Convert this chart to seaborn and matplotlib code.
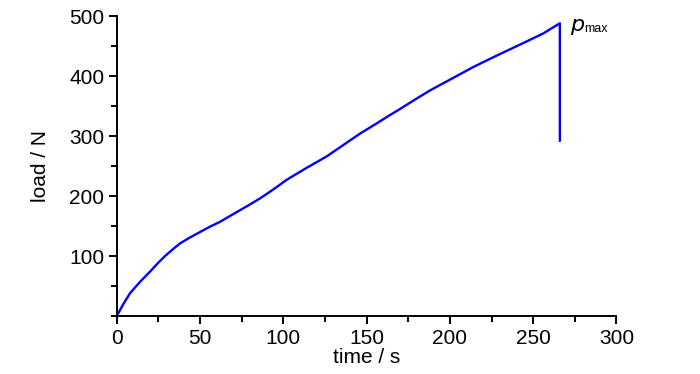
import numpy as np
import pandas as pd
import matplotlib
matplotlib.use("Agg")
import matplotlib.pyplot as plt
import seaborn as sns
from matplotlib.ticker import MultipleLocator

sns.set_theme(style="ticks")
plt.rcParams['font.family'] = ['Liberation Sans', 'DejaVu Sans']
plt.rcParams['text.color'] = 'black'
plt.rcParams['axes.labelcolor'] = 'black'
plt.rcParams['xtick.labelcolor'] = 'black'
plt.rcParams['ytick.labelcolor'] = 'black'

# load curve (time in s, load in N)
time_s = [0, 4, 8, 14, 20, 25, 29, 34, 38, 44, 50, 56, 62, 70, 80, 86, 94, 102,
          114, 126, 136, 146, 156, 164, 170, 178, 188, 200, 214, 228, 244, 256,
          266, 266]
load_n = [0, 20, 38, 57, 74, 89, 100, 112, 121, 131, 140, 149, 157, 170, 186,
          196, 211, 227, 247, 266, 285, 304, 321, 335, 345, 359, 376, 394, 415,
          434, 455, 471, 488, 292]
x_ticks = [0, 50, 100, 150, 200, 250, 300]
y_ticks = [100, 200, 300, 400, 500]

df = pd.DataFrame({"time": time_s, "load": load_n})

fig = plt.figure(figsize=(7, 3.74), dpi=100)
ax = fig.add_axes([0.1667, 0.155, 0.714, 0.802])

sns.lineplot(data=df, x="time", y="load", ax=ax, sort=False, estimator=None,
             color="#0000ff", linewidth=1.7)

ax.set_xlim(0, 300)
ax.set_ylim(0, 500)
ax.set_xticks(x_ticks)
ax.set_yticks(y_ticks)
ax.xaxis.set_minor_locator(MultipleLocator(25))
ax.yaxis.set_minor_locator(MultipleLocator(50))
ax.tick_params(which="major", direction="out", length=6, width=1.4,
               labelsize=15, color="black", pad=3)
ax.tick_params(which="minor", direction="out", length=4, width=1.4, color="black")
for side in ["top", "right"]:
    ax.spines[side].set_visible(False)
for side in ["left", "bottom"]:
    ax.spines[side].set_linewidth(1.4)
    ax.spines[side].set_color("black")

ax.set_xlabel("time / s", fontsize=15, labelpad=0)
ax.set_ylabel("load / N", fontsize=15, labelpad=14)

ax.annotate(r"$p$", xy=(time_s[-2], load_n[-2]), xytext=(7, -2),
            textcoords="offset points", fontsize=16, va="center")
ax.annotate("max", xy=(time_s[-2], load_n[-2]), xytext=(17.5, -4),
            textcoords="offset points", fontsize=9, va="center")

fig.savefig("out.png", dpi=100)
